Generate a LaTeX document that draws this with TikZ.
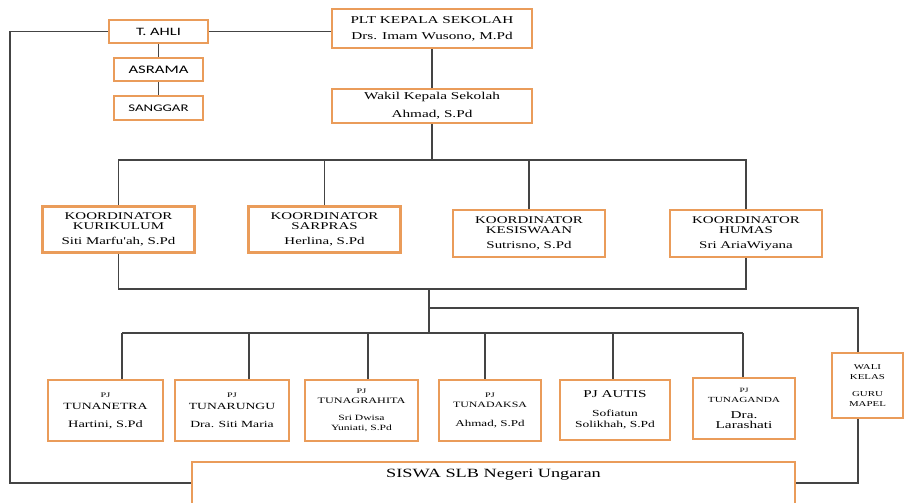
\documentclass[tikz,border=0pt]{standalone}
\usepackage{fontspec}
\setmainfont{Liberation Serif}
\newfontfamily\wideserif[FakeStretch=1.45]{Liberation Serif}
\newfontfamily\widesans[FakeStretch=1.45]{Carlito}
\newcommand{\fsz}[2]{\fontsize{#1}{#2}\selectfont}
\definecolor{boxorange}{RGB}{234,156,90}
\definecolor{linegray}{RGB}{68,68,68}

\begin{document}
\begin{tikzpicture}[x=1pt, y=-1pt,
  box/.style={draw=boxorange, line width=2.7pt, inner sep=1pt, align=center, font=\wideserif},
  ahlibox/.style={box, minimum width=99pt, minimum height=23pt},
  koor/.style={box, minimum width=152pt, minimum height=46pt, font=\wideserif\fsz{10.3}{10}},
  pj/.style={box, minimum height=61pt},
  link/.style={draw=linegray, line width=1.2pt}]
  \clip (0,0) rectangle (905,503);

  % pimpinan
  \node[box, minimum width=200pt, minimum height=39pt, font=\wideserif\fsz{10.5}{16}] (plt) at (432,28.5) {PLT KEPALA SEKOLAH\\Drs. Imam Wusono, M.Pd};
  \node[box, minimum width=200pt, minimum height=34pt, font=\wideserif\fsz{10.5}{18}] (wakil) at (432,106) {Wakil Kepala Sekolah\\Ahmad, S.Pd};
  \node[ahlibox, font=\widesans\fsz{11.3}{13}] (ahli) at (158.5,31.5) {T. AHLI};
  \node[ahlibox, minimum width=89pt, font=\widesans\fsz{11.5}{13}] (asr) at (158.5,69.5) {ASRAMA};
  \node[ahlibox, minimum width=89pt, minimum height=24pt, font=\widesans\fsz{10.2}{13}] (san) at (158.5,108) {SANGGAR};

  % koordinator
  \node[koor] (kur) at (118.5,229.5) {KOORDINATOR\\KURIKULUM\\[5pt]Siti Marfu'ah, S.Pd};
  \node[koor] (sar) at (324.5,229.5) {KOORDINATOR\\SARPRAS\\[5pt]Herlina, S.Pd};
  \node[koor, minimum height=47pt] (kes) at (529,233.5) {KOORDINATOR\\KESISWAAN\\[5pt]Sutrisno, S.Pd};
  \node[koor, minimum height=47pt] (hum) at (746,233.5) {KOORDINATOR\\HUMAS\\[5pt]Sri AriaWiyana};

  % penanggung jawab
  \node[pj, minimum width=115pt, font=\wideserif\fsz{9.5}{12}] (net) at (105.5,410.5) {\fsz{7}{8}PJ\\\fsz{9.5}{12}TUNANETRA\\[6pt]\fsz{9.9}{12}Hartini, S.Pd};
  \node[pj, minimum width=114pt, font=\wideserif\fsz{9.4}{12}] (run) at (232,410.5) {\fsz{7}{8}PJ\\\fsz{9.4}{12}TUNARUNGU\\[6pt]\fsz{9.4}{12}Dra. Siti Maria};
  \node[pj, minimum width=113pt, font=\wideserif\fsz{8}{9.5}] (gra) at (361.5,410.5) {\fsz{7}{8}PJ\\\fsz{8.4}{10}TUNAGRAHITA\\[8pt]\fsz{8}{9}Sri Dwisa\\\fsz{8}{9}Yuniati, S.Pd};
  \node[pj, minimum width=102pt, font=\wideserif\fsz{8}{10}] (dak) at (490,410.5) {\fsz{7}{8}PJ\\\fsz{8.2}{10}TUNADAKSA\\[9pt]\fsz{9}{11}Ahmad, S.Pd};
  \node[pj, minimum width=110pt, minimum height=60pt, font=\wideserif\fsz{9.3}{11}] (aut) at (615,410) {\fsz{10.5}{12}PJ AUTIS\\[8pt]\fsz{9.3}{11}Sofiatun\\\fsz{9.3}{11}Solikhah, S.Pd};
  \node[pj, minimum width=102pt, font=\wideserif\fsz{8}{10}] (gan) at (744,408.5) {\fsz{6.5}{7}PJ\\\fsz{7.8}{9}TUNAGANDA\\[6pt]\fsz{10.5}{12}Dra.\\\fsz{10.5}{12}Larashati};
  \node[box, minimum width=71pt, minimum height=65pt, font=\wideserif\fsz{7.5}{9.5}] (wali) at (867.5,385.5) {WALI\\KELAS\\[8pt]GURU\\MAPEL};

  % siswa
  \node[box, minimum width=603pt, minimum height=42pt, text height=9pt, text depth=20pt, font=\wideserif\fsz{12.6}{14}] (siswa) at (493.5,483) {SISWA SLB Negeri Ungaran};

  % garis
  \coordinate (busA) at (433,160);
  \coordinate (busB) at (429,289);
  \coordinate (fork) at (429,308);
  \coordinate (busC) at (429,333);
  \coordinate (lcorner) at (10,483);
  \coordinate (wx) at (858,0);

  \draw[link] (ahli.east) -- (ahli.east -| plt.west);
  \draw[link] (ahli) -- (asr);
  \draw[link] (asr) -- (san);
  \draw[link] (ahli.west) -| (lcorner) -- (siswa.west);
  \draw[link] (plt) -- (wakil);
  \draw[link] (wakil.south) -- (wakil.south |- busA);
  \draw[link] (kur.north) |- (busA) -| (hum.north);
  \draw[link] (sar.north) -- (sar.north |- busA);
  \draw[link] (kes.north) -- (kes.north |- busA);
  \draw[link] (kur.south) |- (busB) -| (hum.south);
  \draw[link] (busB) -- (busC);
  \draw[link] (fork) -| (wx |- wali.north);
  \draw[link] (siswa.east) -| (wx |- wali.south);
  \draw[link] (122,333) -- (743,333);
  \foreach \b/\x in {net/122,run/249,gra/368,dak/485,aut/613,gan/743}
    \draw[link] (\x,333) -- (\x,0 |- \b.north);
\end{tikzpicture}
\end{document}
